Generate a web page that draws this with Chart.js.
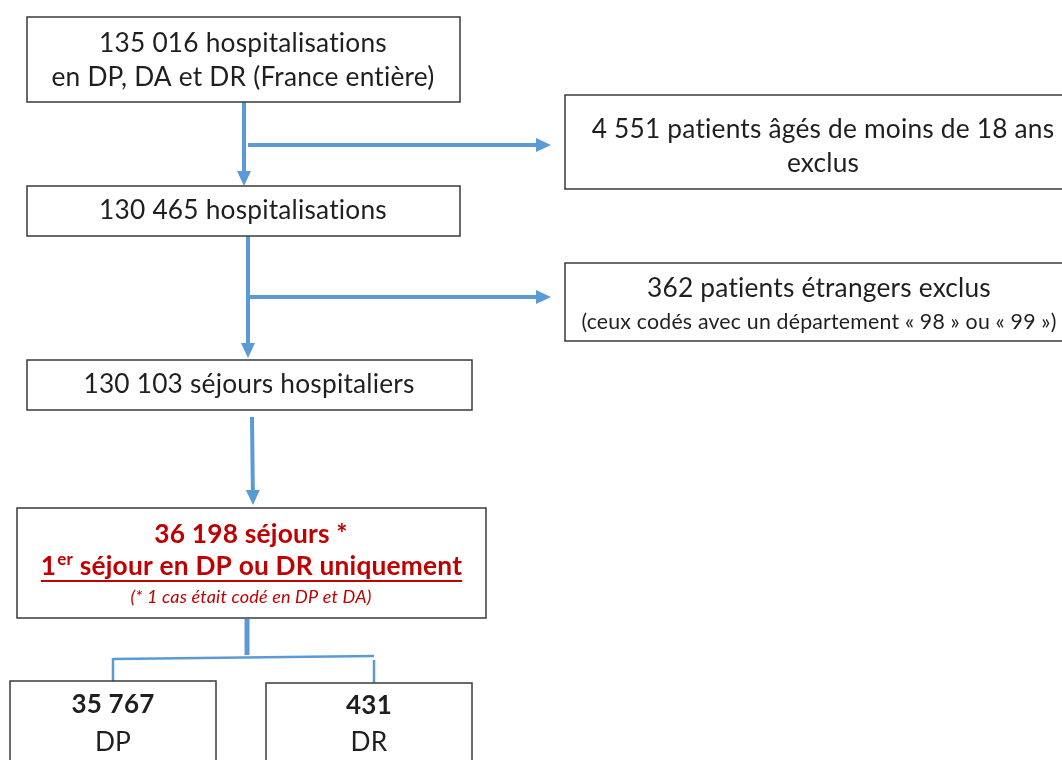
<!DOCTYPE html>
<html>
<head>
<meta charset="utf-8">
<script src="https://cdn.jsdelivr.net/npm/chart.js@4"></script>
<style>
  html, body { margin: 0; padding: 0; background: #fff; }
  #flow { display: block; }
</style>
</head>
<body>
<canvas id="flow" width="1062" height="760"></canvas>
<script>
// effectifs du diagramme de sélection
const mainCounts = [135016, 130465, 130103, 36198];
const exclCounts = [4551, 362];
const splitCounts = [35767, 431];
const splitLabels = ["DP", "DR"];

const FONT = "Lato, 'Open Sans', sans-serif";
const BLUE = "#5b9bd5";
const RED = "#c00000";
const F = "26.3px";

const fmt = n => String(n).replace(/\B(?=(\d{3})+(?!\d))/g, " ");

// mise en page (unités des axes = pixels de l'image)
const boxes = [
  { x0: 27, y0: 17, x1: 460, y1: 102, cx: 243, lines: [
    { t: fmt(mainCounts[0]) + " hospitalisations", y: 44, f: F },
    { t: "en DP, DA et DR (France entière)", y: 78, f: F }] },
  { x0: 27, y0: 186, x1: 460, y1: 236, cx: 243, lines: [
    { t: fmt(mainCounts[1]) + " hospitalisations", y: 211, f: F }] },
  { x0: 565, y0: 95, x1: 1075, y1: 189, cx: 823, lines: [
    { t: fmt(exclCounts[0]) + " patients âgés de moins de 18 ans", y: 130, f: F },
    { t: "exclus", y: 164, f: F }] },
  { x0: 565, y0: 263, x1: 1075, y1: 341, cx: 819, lines: [
    { t: fmt(exclCounts[1]) + " patients étrangers exclus", y: 289, f: F },
    { t: "(ceux codés avec un département « 98 » ou « 99 »)", y: 322, f: "21.3px" }] },
  { x0: 27, y0: 360, x1: 472, y1: 410, cx: 249, lines: [
    { t: fmt(mainCounts[2]) + " séjours hospitaliers", y: 385, f: F }] },
  { x0: 17, y0: 508, x1: 486, y1: 618, cx: 251, lines: [
    { t: fmt(mainCounts[3]) + " séjours *", y: 535, f: "bold " + F, c: RED },
    { sup: true, y: 567, f: "bold " + F, c: RED },
    { t: "(* 1 cas était codé en DP et DA)", y: 597, f: "italic 18px", c: RED }] },
  { x0: 10, y0: 681, x1: 216, y1: 775, cx: 113, lines: [
    { t: fmt(splitCounts[0]), y: 705, f: "bold 26px" },
    { t: splitLabels[0], y: 743, f: F }] },
  { x0: 266, y0: 683, x1: 472, y1: 775, cx: 369, lines: [
    { t: fmt(splitCounts[1]), y: 706, f: "bold 26px" },
    { t: splitLabels[1], y: 743, f: F }] }
];

const arrows = [
  [244, 102, 244, 186],
  [248, 236, 248, 358],
  [248, 145, 551, 145],
  [248, 297, 551, 297],
  [252, 417, 253, 505]
];

const connectors = [
  { p: [247, 619, 247, 655], w: 5 },
  { p: [113, 659, 374, 656], w: 2.5 },
  { p: [113, 658, 113, 681], w: 2.5 },
  { p: [374, 660, 374, 683], w: 2.5 }
];

const flowPlugin = {
  id: "flow",
  afterDraw(chart) {
    const ctx = chart.ctx;
    const X = v => chart.scales.x.getPixelForValue(v);
    const Y = v => chart.scales.y.getPixelForValue(v);
    ctx.save();

    // liens
    ctx.strokeStyle = BLUE;
    ctx.fillStyle = BLUE;
    ctx.lineCap = "butt";
    connectors.forEach(c => {
      ctx.lineWidth = c.w;
      ctx.beginPath();
      ctx.moveTo(X(c.p[0]), Y(c.p[1]));
      ctx.lineTo(X(c.p[2]), Y(c.p[3]));
      ctx.stroke();
    });
    arrows.forEach(a => {
      const x0 = X(a[0]), y0 = Y(a[1]), x1 = X(a[2]), y1 = Y(a[3]);
      const ang = Math.atan2(y1 - y0, x1 - x0);
      const len = 15, half = 7;
      ctx.lineWidth = 4;
      ctx.beginPath();
      ctx.moveTo(x0, y0);
      ctx.lineTo(x1 - Math.cos(ang) * len, y1 - Math.sin(ang) * len);
      ctx.stroke();
      ctx.beginPath();
      ctx.moveTo(x1, y1);
      ctx.lineTo(x1 - Math.cos(ang) * len - Math.sin(ang) * half, y1 - Math.sin(ang) * len + Math.cos(ang) * half);
      ctx.lineTo(x1 - Math.cos(ang) * len + Math.sin(ang) * half, y1 - Math.sin(ang) * len - Math.cos(ang) * half);
      ctx.closePath();
      ctx.fill();
    });

    // cadres + textes
    if ("letterSpacing" in ctx) ctx.letterSpacing = "0.2px"; // évite la ligature « ti » de Lato
    boxes.forEach(b => {
      const x0 = X(b.x0), y0 = Y(b.y0), x1 = X(b.x1), y1 = Y(b.y1);
      ctx.fillStyle = "#fff";
      ctx.fillRect(x0, y0, x1 - x0, y1 - y0);
      ctx.strokeStyle = "#3a3a3a";
      ctx.lineWidth = 1.5;
      ctx.strokeRect(x0, y0, x1 - x0, y1 - y0);
      const cx = X(b.cx);
      ctx.textBaseline = "middle";
      b.lines.forEach(l => {
        ctx.fillStyle = l.c || "#1f1f1f";
        if (l.sup) {
          const big = "bold " + F + " " + FONT, small = "bold 17px " + FONT;
          const a = "1", s = "er", r = " séjour en DP ou DR uniquement";
          ctx.font = big; const wa = ctx.measureText(a).width, wr = ctx.measureText(r).width;
          ctx.font = small; const ws = ctx.measureText(s).width;
          let x = cx - (wa + ws + wr) / 2;
          const start = x;
          ctx.textAlign = "left";
          ctx.font = big; ctx.fillText(a, x, Y(l.y)); x += wa;
          ctx.font = small; ctx.fillText(s, x + 1, Y(l.y) - 7); x += ws + 1;
          ctx.font = big; ctx.fillText(r, x, Y(l.y)); x += wr;
          ctx.strokeStyle = l.c;
          ctx.lineWidth = 2;
          ctx.beginPath();
          ctx.moveTo(start, Y(l.y) + 14);
          ctx.lineTo(x, Y(l.y) + 14);
          ctx.stroke();
        } else {
          ctx.font = l.f + " " + FONT;
          ctx.textAlign = "center";
          ctx.fillText(l.t, cx, Y(l.y));
        }
      });
    });
    ctx.restore();
  }
};

new Chart(document.getElementById("flow"), {
  type: "scatter",
  data: { datasets: [{ data: [], pointRadius: 0 }] },
  options: {
    responsive: false,
    animation: false,
    layout: { padding: 0 },
    plugins: { legend: { display: false }, tooltip: { enabled: false } },
    scales: {
      x: { type: "linear", min: 0, max: 1062, display: false },
      y: { type: "linear", min: 0, max: 760, reverse: true, display: false }
    }
  },
  plugins: [flowPlugin]
});
</script>
</body>
</html>
